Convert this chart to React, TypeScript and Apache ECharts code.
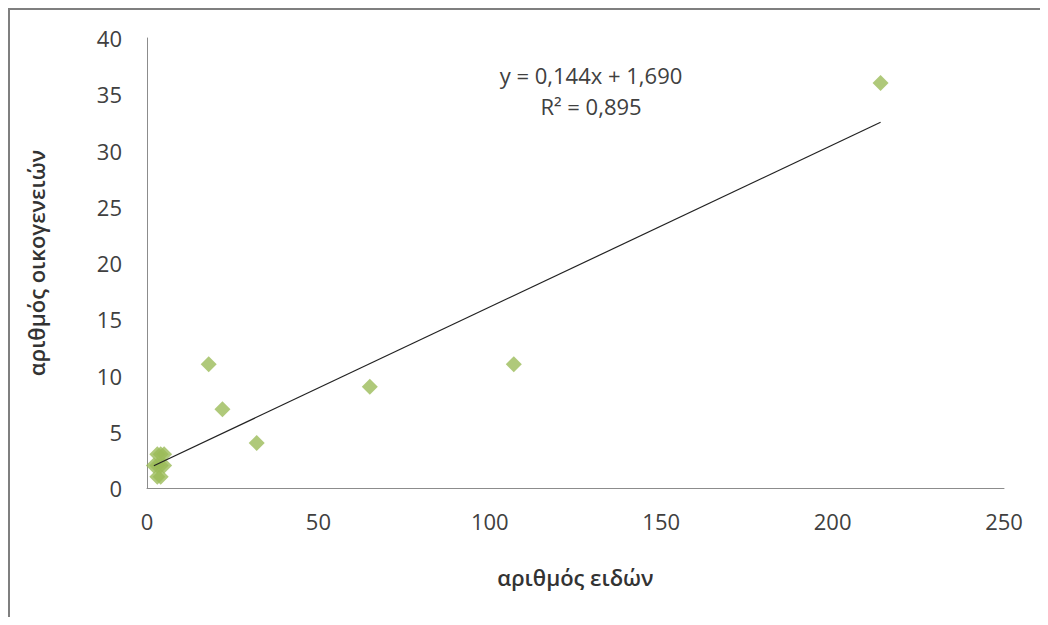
import React, { useEffect, useRef } from "react";
import * as echarts from "echarts";

const speciesX = [214, 107, 65, 18, 22, 32, 2, 3, 3, 4, 4, 4, 5, 3, 5];
const familiesY = [36, 11, 9, 11, 7, 4, 2, 1, 2, 1, 2, 3, 3, 3, 2];
const slope = 0.144;
const intercept = 1.69;
const equationText = "y = 0,144x + 1,690";
const r2Text = "R² = 0,895";
const xName = "αριθμός ειδών";
const yName = "αριθμός οικογενειών";

export default function App() {
  const ref = useRef<HTMLDivElement>(null);
  useEffect(() => {
    const chart = echarts.init(ref.current!, null, { renderer: "svg" });
    const pts = speciesX.map((x, i) => [x, familiesY[i]]);
    const xmin = Math.min(...speciesX);
    const xmax = Math.max(...speciesX);
    const trend = [
      [xmin, slope * xmin + intercept],
      [xmax, slope * xmax + intercept],
    ];
    const font = "'Open Sans', 'Noto Sans', sans-serif";
    chart.setOption({
      animation: false,
      textStyle: { fontFamily: font },
      grid: { left: 137, right: 36, top: 28, bottom: 129 },
      xAxis: {
        type: "value",
        min: 0,
        max: 250,
        interval: 50,
        name: xName,
        nameLocation: "middle",
        nameGap: 78,
        nameTextStyle: { fontSize: 22, fontWeight: 600, color: "#333", fontFamily: font },
        axisLine: { show: true, lineStyle: { color: "#8c8c8c", width: 1 } },
        axisTick: { show: false },
        splitLine: { show: false },
        axisLabel: { fontSize: 22, color: "#404040", margin: 22, fontFamily: font },
      },
      yAxis: {
        type: "value",
        min: 0,
        max: 40,
        interval: 5,
        name: yName,
        nameLocation: "middle",
        nameGap: 100,
        nameRotate: 90,
        nameTextStyle: { fontSize: 22, fontWeight: 600, color: "#333", fontFamily: font },
        axisLine: { show: true, lineStyle: { color: "#8c8c8c", width: 1 } },
        axisTick: { show: false },
        splitLine: { show: false },
        axisLabel: { fontSize: 22, color: "#404040", margin: 25, fontFamily: font },
      },
      graphic: [
        {
          type: "text",
          x: 581,
          y: 65,
          style: { text: equationText, fontSize: 22, fill: "#404040", align: "center", verticalAlign: "middle", fontFamily: font },
        },
        {
          type: "text",
          x: 581,
          y: 96,
          style: { text: r2Text, fontSize: 22, fill: "#404040", align: "center", verticalAlign: "middle", fontFamily: font },
        },
      ],
      series: [
        {
          type: "scatter",
          data: pts,
          symbol: "diamond",
          symbolSize: 16,
          itemStyle: { color: "#9bbb59" },
          z: 3,
        },
        {
          type: "line",
          data: trend,
          symbol: "none",
          lineStyle: { color: "#222", width: 1.2 },
          z: 4,
        },
      ],
    });
    return () => chart.dispose();
  }, []);
  return (
    <div style={{ borderLeft: "2px solid #7f7f7f", borderTop: "2px solid #7f7f7f", width: 1030, height: 607, overflow: "hidden" }}>
      <div ref={ref} style={{ width: 1030, height: 607 }} />
    </div>
  );
}
